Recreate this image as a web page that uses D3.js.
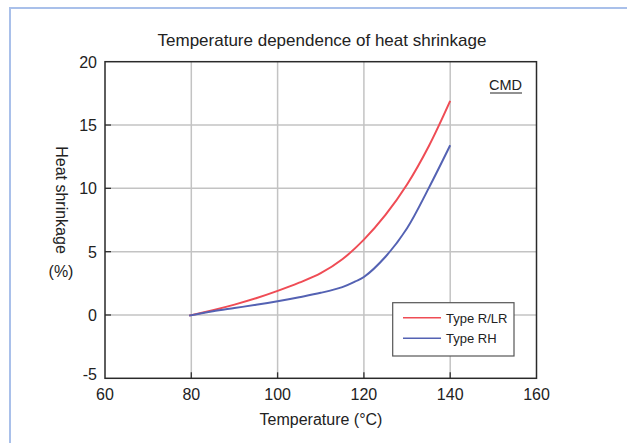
<!DOCTYPE html>
<html>
<head>
<meta charset="utf-8">
<script src="https://cdn.jsdelivr.net/npm/d3@7"></script>
<style>
  html, body { margin: 0; padding: 0; background: #fff; }
  svg { display: block; font-family: "Liberation Sans", Arial, Helvetica, sans-serif; }
</style>
</head>
<body>
<svg id="chart" width="627" height="443"></svg>
<script>
// Heat shrinkage (%) versus temperature (°C), CMD
const temperatureR = [79.5, 85, 90, 95, 100, 105, 110, 115, 120, 125, 130, 135, 140];
const shrinkR      = [-0.05, 0.38, 0.82, 1.32, 1.9, 2.55, 3.3, 4.4, 5.95, 7.9, 10.3, 13.3, 16.9];
const temperatureRH = [79.5, 85, 90, 95, 100, 105, 110, 115, 118, 120, 125, 130, 135, 140];
const shrinkRH      = [-0.05, 0.3, 0.55, 0.8, 1.08, 1.4, 1.75, 2.2, 2.65, 3.0, 4.6, 6.85, 10.0, 13.4];
const xTicks = [60, 80, 100, 120, 140, 160];
const yTicks = [-5, 0, 5, 10, 15, 20];
const seriesNames = ["Type R/LR", "Type RH"];
const seriesColors = ["#ef4c55", "#5462b3"];

const svg = d3.select("#chart");

// page frame
svg.append("path")
  .attr("d", "M10,443 V8 H627")
  .attr("fill", "none")
  .attr("stroke", "#a9c0ea")
  .attr("stroke-width", 2);

const x = d3.scaleLinear().domain([60, 160]).range([105, 536.5]);
const y = d3.scaleLinear().domain([-5, 20]).range([378.3, 61.7]);

// grid
const g = svg.append("g");
g.selectAll(".vg").data(xTicks.slice(1, -1)).enter().append("line")
  .attr("x1", d => x(d)).attr("x2", d => x(d))
  .attr("y1", y(20)).attr("y2", y(-5))
  .attr("stroke", "#c3c3c3").attr("stroke-width", 1.5);
g.selectAll(".hg").data(yTicks.slice(1, -1)).enter().append("line")
  .attr("y1", d => y(d)).attr("y2", d => y(d))
  .attr("x1", x(60)).attr("x2", x(160))
  .attr("stroke", "#c3c3c3").attr("stroke-width", 1.5);

// inward ticks
g.selectAll(".xt").data(xTicks.slice(1, -1)).enter().append("line")
  .attr("x1", d => x(d)).attr("x2", d => x(d))
  .attr("y1", y(-5)).attr("y2", y(-5) - 6)
  .attr("stroke", "#333").attr("stroke-width", 1.3);
g.selectAll(".yt").data(yTicks.slice(1, -1)).enter().append("line")
  .attr("y1", d => y(d)).attr("y2", d => y(d))
  .attr("x1", x(60)).attr("x2", x(60) + 6)
  .attr("stroke", "#333").attr("stroke-width", 1.3);

// curves
const line = d3.line()
  .x(d => x(d[0])).y(d => y(d[1]))
  .curve(d3.curveCatmullRom.alpha(0.5));
const series = [
  d3.zip(temperatureR, shrinkR),
  d3.zip(temperatureRH, shrinkRH)
];
svg.selectAll(".curve").data(series).enter().append("path")
  .attr("d", line)
  .attr("fill", "none")
  .attr("stroke", (d, i) => seriesColors[i])
  .attr("stroke-width", 2);

// plot frame
svg.append("rect")
  .attr("x", x(60)).attr("y", y(20))
  .attr("width", x(160) - x(60)).attr("height", y(-5) - y(20))
  .attr("fill", "none").attr("stroke", "#2a2a2a").attr("stroke-width", 1.5);

// tick labels
svg.selectAll(".xl").data(xTicks).enter().append("text")
  .attr("x", d => x(d)).attr("y", 399.5)
  .attr("text-anchor", "middle")
  .attr("font-size", 16).attr("fill", "#222")
  .text(d => d);
svg.selectAll(".yl").data(yTicks).enter().append("text")
  .attr("x", 97).attr("y", d => y(d) + 6 - (d === -5 ? 4 : 0))
  .attr("text-anchor", "end")
  .attr("font-size", 16).attr("fill", "#222")
  .text(d => d);

// titles
svg.append("text")
  .attr("x", 322).attr("y", 45.5)
  .attr("text-anchor", "middle")
  .attr("font-size", 17).attr("fill", "#222")
  .text("Temperature dependence of heat shrinkage");
svg.append("text")
  .attr("x", 321).attr("y", 425)
  .attr("text-anchor", "middle")
  .attr("font-size", 16).attr("fill", "#222")
  .text("Temperature (°C)");
svg.append("text")
  .attr("transform", "translate(56,200) rotate(90)")
  .attr("text-anchor", "middle")
  .attr("font-size", 16).attr("fill", "#222")
  .text("Heat shrinkage");
svg.append("text")
  .attr("x", 61).attr("y", 277)
  .attr("text-anchor", "middle")
  .attr("font-size", 16).attr("fill", "#222")
  .text("(%)");

// CMD label
svg.append("text")
  .attr("x", 522).attr("y", 90)
  .attr("text-anchor", "end")
  .attr("font-size", 14.5).attr("fill", "#222")
  .text("CMD");
svg.append("line")
  .attr("x1", 490).attr("x2", 522).attr("y1", 93).attr("y2", 93)
  .attr("stroke", "#222").attr("stroke-width", 1);

// legend
const lg = svg.append("g");
lg.append("rect")
  .attr("x", 392.7).attr("y", 302.7).attr("width", 121.3).attr("height", 53.3)
  .attr("fill", "#fff").attr("stroke", "#555").attr("stroke-width", 1.2);
const rowsY = [317.7, 338.3];
seriesNames.forEach((name, i) => {
  lg.append("line")
    .attr("x1", 403).attr("x2", 441)
    .attr("y1", rowsY[i]).attr("y2", rowsY[i])
    .attr("stroke", seriesColors[i]).attr("stroke-width", 1.5);
  lg.append("text")
    .attr("x", 446).attr("y", rowsY[i] + 5)
    .attr("font-size", 13).attr("fill", "#222")
    .text(name);
});
</script>
</body>
</html>
